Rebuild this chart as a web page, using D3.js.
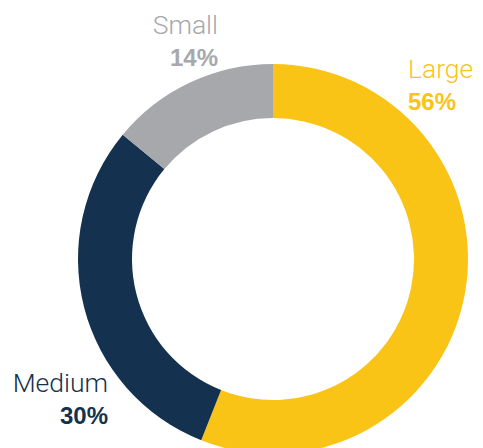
<!DOCTYPE html>
<html>
<head>
<meta charset="utf-8">
<script src="https://cdn.jsdelivr.net/npm/d3@7"></script>
<style>
  body { margin: 0; background: #fff; }
  .lbl { font-family: Roboto, "Liberation Sans", sans-serif; font-weight: 300; font-size: 26.5px; }
  .pct { font-family: "Liberation Sans", Arial, sans-serif; font-weight: bold; font-size: 24px; }
</style>
</head>
<body>
<div class="chart"></div>
<script>
var categories = ["Large", "Medium", "Small"];
var shares = [56, 30, 14];
var colors = ["#F9C416", "#14324F", "#A7A8AC"];

var width = 483, height = 448;
var cx = 273, cy = 259;
var outerR = 195, innerR = 141;

var data = categories.map(function(c, i) {
  return { label: c, value: shares[i], color: colors[i] };
});

var svg = d3.select(".chart")
  .append("svg")
  .attr("width", width)
  .attr("height", height);

var pie = d3.pie()
  .sort(null)
  .value(function(d) { return d.value; });

var arc = d3.arc()
  .innerRadius(innerR)
  .outerRadius(outerR);

var g = svg.append("g")
  .attr("transform", "translate(" + cx + "," + cy + ")");

g.selectAll("path")
  .data(pie(data))
  .enter()
  .append("path")
  .attr("d", arc)
  .attr("fill", function(d) { return d.data.color; });

// labels sit outside the ring
var labelPos = {
  Large:  { x: 408, y: 78, anchor: "start" },
  Medium: { x: 108, y: 392, anchor: "end" },
  Small:  { x: 218, y: 34, anchor: "end" }
};

data.forEach(function(d) {
  var p = labelPos[d.label];
  svg.append("text")
    .attr("class", "lbl")
    .attr("x", p.x)
    .attr("y", p.y)
    .attr("text-anchor", p.anchor)
    .attr("fill", d.color)
    .text(d.label);
  svg.append("text")
    .attr("class", "pct")
    .attr("x", p.x)
    .attr("y", p.y + 32)
    .attr("text-anchor", p.anchor)
    .attr("fill", d.color)
    .text(d.value + "%");
});
</script>
</body>
</html>
